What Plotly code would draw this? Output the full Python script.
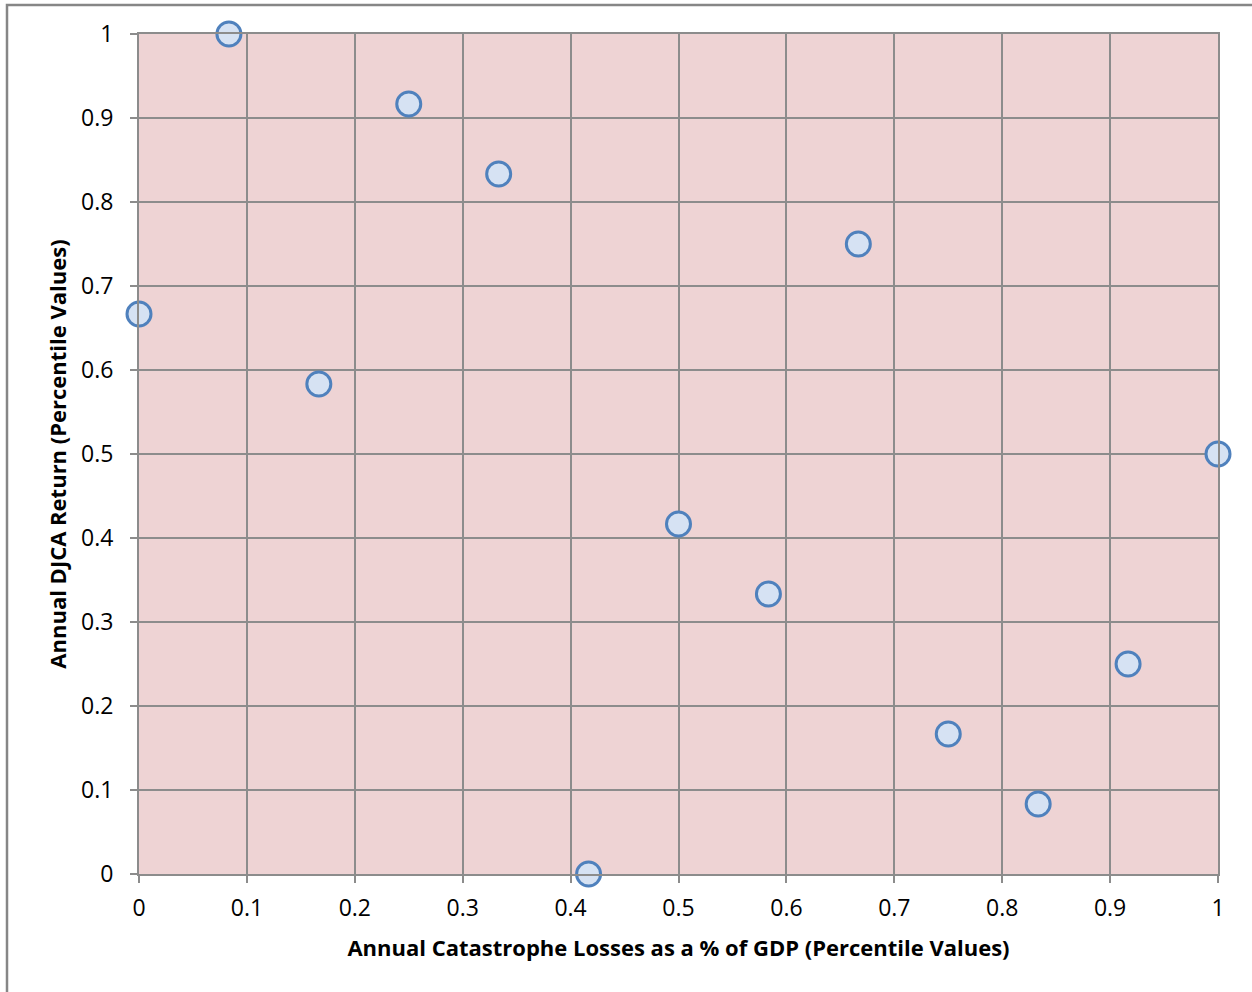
import plotly.graph_objects as go

# Percentile ranks of catastrophe losses (x) vs. DJCA annual return (y)
loss_pct = [0, 1/12, 2/12, 3/12, 4/12, 5/12, 6/12, 7/12, 8/12, 9/12, 10/12, 11/12, 1]
djca_pct = [8/12, 1, 7/12, 11/12, 10/12, 0, 5/12, 4/12, 9/12, 2/12, 1/12, 3/12, 6/12]

x_title = "Annual Catastrophe Losses as a % of GDP (Percentile Values)"
y_title = "Annual DJCA Return (Percentile Values)"

W, H = 1252, 992
L, R, T, B = 139, 34, 34, 118
plot_w = W - L - R
plot_h = H - T - B

FONT = "'Open Sans', sans-serif"
GRID = "#8c8c8c"

fig = go.Figure()
fig.add_trace(go.Scatter(
    x=loss_pct, y=djca_pct, mode="markers", cliponaxis=False,
    marker=dict(symbol="circle", size=24, color="#d6e2f3",
                line=dict(color="#4f81bd", width=3)),
    showlegend=False,
))

axis_common = dict(
    range=[0, 1], dtick=0.1, tick0=0,
    showgrid=True, gridcolor=GRID, gridwidth=2,
    zeroline=False, showline=True, linecolor=GRID, linewidth=2, mirror=True,
    ticks="outside", ticklen=7, tickcolor=GRID, tickwidth=2,
    tickfont=dict(family=FONT, size=23, color="#000000"),
    tickformat="~g",
)

fig.update_xaxes(**axis_common, ticklabelstandoff=5,
                 title=dict(text="<b>" + x_title + "</b>",
                            font=dict(family=FONT, size=22, color="#000000"),
                            standoff=19))
fig.update_yaxes(**axis_common, ticklabelstandoff=12,
                 title=dict(text="<b>" + y_title + "</b>",
                            font=dict(family=FONT, size=22, color="#000000"),
                            standoff=8))

# Outer chart frame (left and top edges)
fx = lambda px: (px - L) / plot_w
fy = lambda py: (H - B - py) / plot_h
fig.add_shape(type="path", xref="paper", yref="paper",
              path=f"M {fx(7)} {fy(H + 5)} L {fx(7)} {fy(5)} L {fx(W + 5)} {fy(5)}",
              line=dict(color="#868686", width=2.5))

fig.update_layout(
    width=W, height=H,
    margin=dict(l=L, r=R, t=T, b=B, autoexpand=False),
    paper_bgcolor="#ffffff",
    plot_bgcolor="#eed3d4",
    font=dict(family=FONT),
)

fig.write_html("out.html")
